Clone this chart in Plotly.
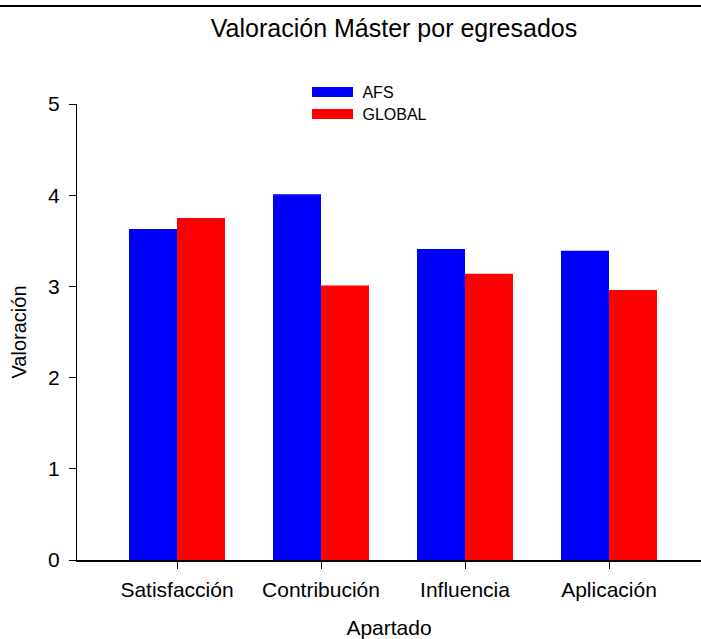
import plotly.graph_objects as go

categories = ["Satisfacción", "Contribución", "Influencia", "Aplicación"]
afs_values = [3.63, 4.01, 3.41, 3.39]
global_values = [3.75, 3.01, 3.14, 2.96]
series_names = ["AFS", "GLOBAL"]
series_colors = ["#0000FF", "#FF0000"]
y_ticks = [0, 1, 2, 3, 4, 5]

FONT = "Arial, Liberation Sans, sans-serif"

fig = go.Figure()
for name, vals, col in zip(series_names, [afs_values, global_values], series_colors):
    fig.add_trace(go.Bar(x=categories, y=vals, name=name, marker=dict(color=col, line=dict(width=0)),
                         showlegend=False))
# legend entries with wide swatches, one legend per series for exact spacing
for name, col, leg in zip(series_names, series_colors, ["legend", "legend2"]):
    fig.add_trace(go.Scatter(x=[None], y=[None], mode="lines", name="\u00a0" + name, legend=leg,
                             line=dict(color=col, width=14)))

leg_common = dict(x=(307-77)/624, xanchor="left", yanchor="top",
                  bgcolor="rgba(0,0,0,0)", font=dict(size=16, family=FONT, color="black"),
                  itemwidth=41)

fig.update_layout(
    width=701, height=639,
    margin=dict(l=77, r=0, t=104, b=79),
    paper_bgcolor="white", plot_bgcolor="white",
    font=dict(family=FONT, color="black", size=21),
    barmode="group", bargap=1/3, bargroupgap=0,
    title=dict(text="Valoración Máster por egresados", font=dict(size=25, family=FONT, color="black"),
               x=394/701, xref="container", xanchor="center",
               y=1-28/639, yref="container", yanchor="middle"),
    legend=dict(y=1+29/456, **leg_common),
    legend2=dict(y=1+7/456, **leg_common),
    xaxis=dict(range=[-100/144, 3+92/144], showgrid=False, zeroline=False,
               showline=True, linecolor="black", linewidth=2,
               ticks="outside", ticklen=7, tickwidth=1, tickcolor="black",
               tickfont=dict(size=21), ticklabelstandoff=3,
               title=dict(text="Apartado", font=dict(size=21), standoff=24)),
    yaxis=dict(range=[0, 5], tickvals=y_ticks, showgrid=False, zeroline=False,
               showline=True, linecolor="black", linewidth=1,
               ticks="outside", ticklen=7, tickwidth=1, tickcolor="black",
               tickfont=dict(size=21), ticklabelstandoff=5,
               title=dict(text="Valoración", font=dict(size=20), standoff=16)),
    shapes=[dict(type="line", xref="paper", yref="paper", x0=-0.2, x1=1.2,
                 y0=1+(104-6)/456, y1=1+(104-6)/456, line=dict(color="black", width=2))],
)

fig.write_html(
    "out.html",
    config={"displayModeBar": False},
    post_script=("document.body.style.margin='0';"
                 "document.body.style.overflow='hidden';"
                 "document.documentElement.style.overflow='hidden';"),
)
